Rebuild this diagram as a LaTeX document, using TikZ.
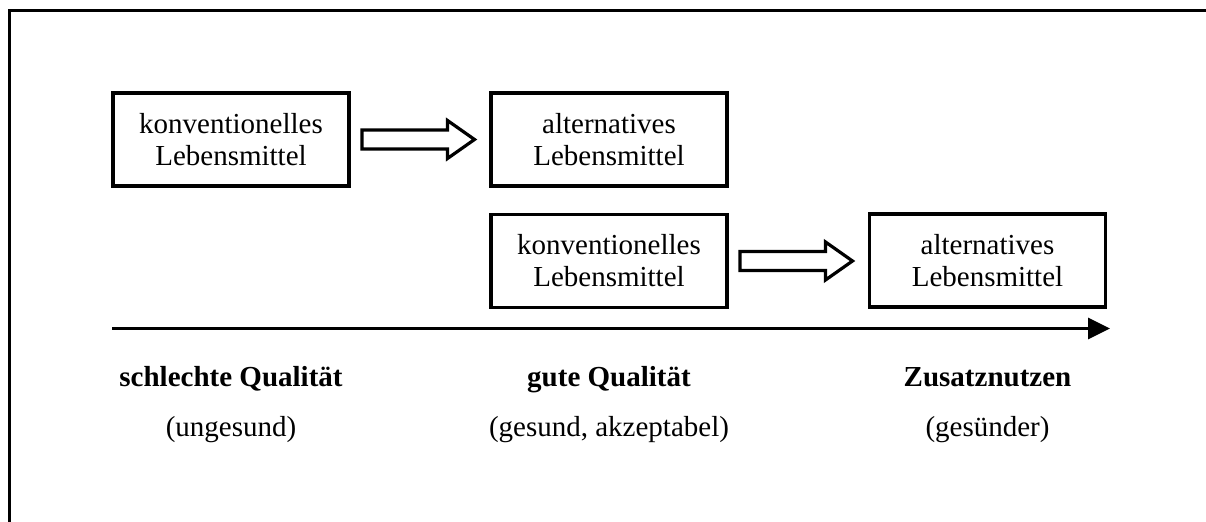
\documentclass[tikz,border=0pt]{standalone}
\usepackage{fontspec}
\setmainfont{Liberation Serif}
\usetikzlibrary{arrows.meta,calc}
\tikzset{
  box/.style={draw, line width=1.6pt, minimum width=118pt, minimum height=46.5pt, inner sep=0pt, outer sep=0pt, align=center, font=\fontsize{14.5}{16}\selectfont},
  blockarrow/.style={draw, line width=1.6pt, line join=miter, fill=white},
  heading/.style={anchor=base, inner sep=0pt, font=\fontsize{14.5}{16}\selectfont\bfseries},
  sub/.style={anchor=base, inner sep=0pt, font=\fontsize{14.5}{16}\selectfont},
  frameline/.style={line width=1.4pt},
  axis/.style={line width=1.6pt, -{Triangle[length=11pt,width=10.5pt]}}
}
\newcommand\blockarr[1]{\draw[blockarrow] ($(#1.east)+(13,-9.5)$) -- ++(85.5,0) -- ++(0,-9.5) -- ++(27,19) -- ++(-27,19) -- ++(0,-9.5) -- ++(-85.5,0) -- cycle;}
\begin{document}
\begin{tikzpicture}[x=0.5pt,y=-0.5pt]
\useasboundingbox (0,0) rectangle (1206,522);
\draw[frameline] (9.7,523) -- (9.7,10.3) -- (1207,10.3);

\node[box] (b1) at (231,139.5) {konventionelles\\Lebensmittel};
\node[box] (b2) at (609,139.5) {alternatives\\Lebensmittel};
\node[box] (b3) at (609,261) {konventionelles\\Lebensmittel};
\node[box] (b4) at (987.5,260.5) {alternatives\\Lebensmittel};

\blockarr{b1}
\blockarr{b3}

\coordinate (axs) at (112,328.5);
\coordinate (axe) at (1110,328.5);
\draw[axis] (axs) -- (axe);

\node[heading] (h1) at (231,387) {schlechte Qualität};
\node[heading] (h2) at (609,387) {gute Qualität};
\node[heading] (h3) at (987.5,387) {Zusatznutzen};
\node[sub] (s1) at (231,437) {(ungesund)};
\node[sub] (s2) at (609,437) {(gesund, akzeptabel)};
\node[sub] (s3) at (987.5,437) {(gesünder)};
\end{tikzpicture}
\end{document}
